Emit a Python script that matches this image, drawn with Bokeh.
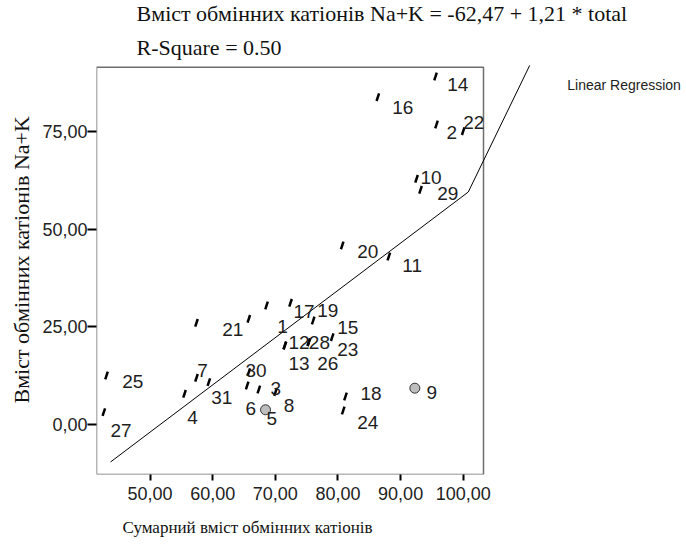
import numpy as np
from bokeh.plotting import figure
from bokeh.models import FixedTicker, Range1d, ColumnDataSource, Title
from bokeh.embed import file_html
from bokeh.resources import INLINE
from bokeh.core.properties import value

# ---------------- data ----------------
case_ids = ["1", "2", "3", "4", "5", "6", "7", "8", "9", "10",
            "11", "12", "13", "14", "15", "16", "17", "18", "19", "20",
            "21", "22", "23", "24", "25", "26", "27", "28", "29", "30", "31"]
total_cations = [65.77, 95.73, 67.37, 55.51, 68.44, 65.51, 57.42, 70.03, 92.27, 92.54,
                 88.12, 71.52, 71.52, 95.57, 76.05, 86.36, 68.60, 81.20, 72.43, 80.68,
                 57.42, 99.99, 79.08, 80.84, 43.06, 75.35, 42.63, 75.35, 93.18, 65.77, 59.39]
na_k = [27.05, 76.78, 8.96, 7.86, 3.76, 9.98, 11.95, 8.27, 9.29, 62.89,
        43.00, 20.22, 20.22, 89.07, 26.62, 83.77, 30.46, 7.17, 31.15, 45.82,
        26.03, 75.07, 22.34, 3.58, 12.54, 21.06, 3.15, 21.06, 60.07, 13.39, 10.83]
circled_cases = ["5", "9"]

x_ticks = [50, 60, 70, 80, 90, 100]
x_tick_labels = ["50,00", "60,00", "70,00", "80,00", "90,00", "100,00"]
y_ticks = [0, 25, 50, 75]
y_tick_labels = ["0,00", "25,00", "50,00", "75,00"]

intercept = -62.47
slope = 1.21
fit_x_span = [43.7, 100.8]
fit_tail_end = [110.6, 91.9]

title_line = "Вміст обмінних катіонів Na+K = -62,47 + 1,21 * total"
rsq_line = "R-Square = 0.50"
x_title = "Сумарний вміст обмінних катіонів"
y_title = "Вміст обмінних катіонів Na+K"
legend_text = "Linear Regression"

# label nudges (screen px) of each case label relative to its point
label_dx = [28.4, 10, 11.7, 2.7, 1, -1.7, 0.7, 8.3, 11.7, 4,
            13.4, 3.7, 3.7, 11.7, 24, 14.4, 27, 15, 26.7, 15,
            25.7, 0, 5, 14, 15.7, 8.4, 6.7, 0, 16.7, -3.3, 2.4]
label_dy = [7.7, 7.7, -0.7, 23.4, 9, 23.3, -7.3, 13.3, 4, -1.6,
            9, -3.3, 18.3, 8.3, 6.7, 10, 6.5, -3, 7.7, 6,
            6.7, -9, 12, 12, 6, 21.6, 18.3, 0, 4, -1.7, 15]

# ---------------- layout ----------------
W, H = 686, 556
box_x = (41.46, 103.23)
box_y = (-12.80, 91.45)

p = figure(width=W, height=H, output_backend="svg", toolbar_location=None,
           x_range=Range1d(41.46, 135.63), y_range=Range1d(-12.80, 108.52),
           min_border_left=96, min_border_right=0, min_border_top=0,
           min_border_bottom=82)
p.outline_line_color = None
p.xgrid.visible = False
p.ygrid.visible = False
p.background_fill_color = "white"
p.border_fill_color = "white"

# axes
for ax in (p.xaxis[0], p.yaxis[0]):
    ax.axis_line_color = None
    ax.minor_tick_line_color = None
    ax.major_tick_in = 0
    ax.major_tick_line_color = "black"
    ax.major_tick_line_width = 2
    ax.major_label_text_font = "Liberation Sans"
    ax.major_label_text_font_size = "18px"
    ax.major_label_text_color = "#222222"

p.xaxis.ticker = FixedTicker(ticks=x_ticks)
p.xaxis.major_label_overrides = dict(zip(x_ticks, x_tick_labels))
p.xaxis.major_tick_out = 6
p.xaxis.major_label_standoff = 6

p.yaxis.ticker = FixedTicker(ticks=y_ticks)
p.yaxis.major_label_overrides = dict(zip(y_ticks, y_tick_labels))
p.yaxis.major_tick_out = 9
p.yaxis.major_label_standoff = 0

# axis titles
p.add_layout(Title(text=y_title, align="left", offset=71, standoff=12,
                   text_font="Liberation Serif", text_font_size="22px",
                   text_font_style="normal", text_color="#111111"), "left")
p.add_layout(Title(text=x_title, align="left", offset=26, standoff=27,
                   text_font="Liberation Serif", text_font_size="17px",
                   text_font_style="normal", text_color="#111111"), "below")

# plot box
p.quad(left=[box_x[0]], right=[box_x[1]], bottom=[box_y[0]], top=[box_y[1]],
       fill_color=None, line_color="#6e6e6e", line_width=1.5)

# regression line (with the drawn tail)
fx = np.array(fit_x_span)
fy = intercept + slope * fx
p.line(list(fx) + [fit_tail_end[0]], list(fy) + [fit_tail_end[1]],
       line_color="black", line_width=1)

# points
src = ColumnDataSource(dict(x=total_cations, y=na_k, case=case_ids,
                            dx=label_dx, dy=label_dy))
pin_idx = [i for i, c in enumerate(case_ids) if c not in circled_cases]
circ_idx = [i for i, c in enumerate(case_ids) if c in circled_cases]
p.scatter([total_cations[i] for i in pin_idx], [na_k[i] for i in pin_idx],
          marker="dash", size=8, angle=1.25, line_color="black", line_width=2.5)
p.scatter([total_cations[i] for i in circ_idx], [na_k[i] for i in circ_idx],
          marker="circle", size=10, fill_color="#bdbdbd", line_color="#333333",
          line_width=1)

p.text(x="x", y="y", text="case", source=src, x_offset="dx", y_offset="dy",
       text_align="left", text_baseline="middle",
       text_font=value("Liberation Sans"), text_font_size="19px",
       text_color="#1e1e1e")

# legend text and chart titles (inside the tall frame, above the box)
p.text(x=[116.6], y=[86.8], text=[legend_text], text_align="left",
       text_baseline="middle", text_font=value("Liberation Sans"),
       text_font_size="14px", text_color="#222222")
p.text(x=[47.85, 47.85], y=[105.07, 96.37], text=[title_line, rsq_line],
       text_align="left", text_baseline="middle",
       text_font=value("Liberation Serif"), text_font_size="22px",
       text_color="#111111")

open("out.html", "w").write(file_html(p, INLINE))
